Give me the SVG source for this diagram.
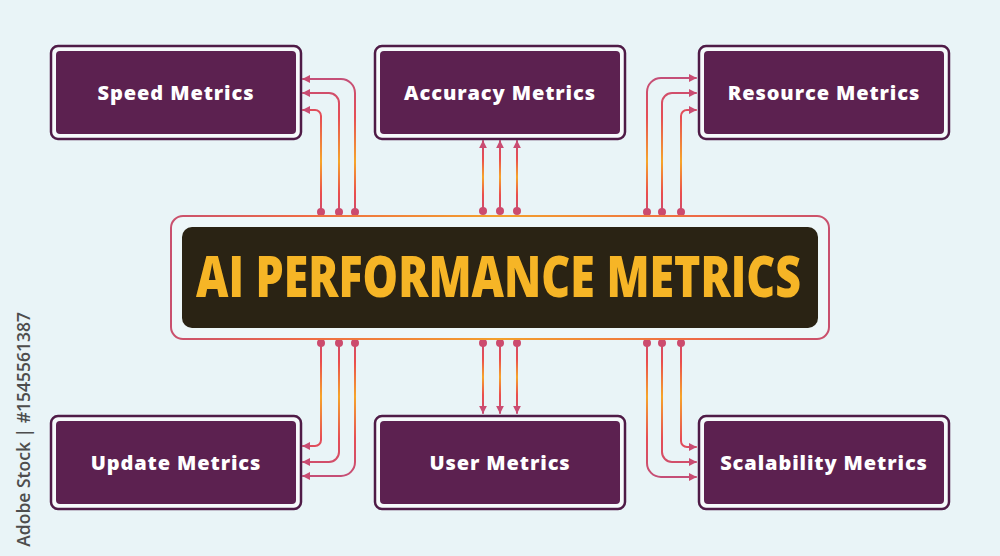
<svg xmlns="http://www.w3.org/2000/svg" width="1000" height="556" viewBox="0 0 1000 556">
  <defs>
    <style>
      .node-outer { fill: #f6fafb; stroke: #4f1b47; stroke-width: 2.5; }
      .node-inner { fill: #5c2150; }
      .node-label { font-family: "Open Sans", "Liberation Sans", sans-serif; font-weight: 800; font-size: 20px; letter-spacing: 0.9px; fill: #ffffff; text-anchor: middle; }
      .conn { fill: none; stroke-width: 2; stroke-linecap: round; }
      .top { stroke: url(#gTop); marker-start: url(#dot); marker-end: url(#arrow); }
      .bot { stroke: url(#gBot); marker-start: url(#dot); marker-end: url(#arrow); }
      .mid { stroke: url(#gMid); marker-start: url(#dot); marker-end: url(#arrow); }
      .midb { stroke: url(#gMidB); marker-start: url(#dot); marker-end: url(#arrow); }
    </style>
    <linearGradient id="gTop" gradientUnits="userSpaceOnUse" x1="0" y1="76" x2="0" y2="214">
      <stop offset="0" stop-color="#c24f7a"/>
      <stop offset="0.3" stop-color="#e64d55"/>
      <stop offset="0.62" stop-color="#f6a52a"/>
      <stop offset="0.85" stop-color="#ea4d4e"/>
      <stop offset="1" stop-color="#cc4b6e"/>
    </linearGradient>
    <linearGradient id="gBot" gradientUnits="userSpaceOnUse" x1="0" y1="341" x2="0" y2="480">
      <stop offset="0" stop-color="#cc4b6e"/>
      <stop offset="0.15" stop-color="#ea4d4e"/>
      <stop offset="0.4" stop-color="#f6a52a"/>
      <stop offset="0.7" stop-color="#e64d55"/>
      <stop offset="1" stop-color="#c24f7a"/>
    </linearGradient>
    <linearGradient id="gMid" gradientUnits="userSpaceOnUse" x1="0" y1="141" x2="0" y2="213">
      <stop offset="0" stop-color="#c94c72"/>
      <stop offset="0.25" stop-color="#ea4d4e"/>
      <stop offset="0.5" stop-color="#f6a52a"/>
      <stop offset="0.75" stop-color="#ea4d4e"/>
      <stop offset="1" stop-color="#c94c72"/>
    </linearGradient>
    <linearGradient id="gMidB" gradientUnits="userSpaceOnUse" x1="0" y1="341" x2="0" y2="413">
      <stop offset="0" stop-color="#c94c72"/>
      <stop offset="0.25" stop-color="#ea4d4e"/>
      <stop offset="0.5" stop-color="#f6a52a"/>
      <stop offset="0.75" stop-color="#ea4d4e"/>
      <stop offset="1" stop-color="#c94c72"/>
    </linearGradient>
    <linearGradient id="gFrame" x1="0" y1="0" x2="1" y2="0">
      <stop offset="0" stop-color="#c9506e"/>
      <stop offset="0.2" stop-color="#ee6a45"/>
      <stop offset="0.5" stop-color="#f3a02c"/>
      <stop offset="0.8" stop-color="#ee6a45"/>
      <stop offset="1" stop-color="#c9506e"/>
    </linearGradient>
    <marker id="arrow" viewBox="0 0 10 10" refX="9" refY="5" markerWidth="8" markerHeight="8" markerUnits="userSpaceOnUse" orient="auto">
      <path d="M0,0 L10,5 L0,10 Z" fill="#c94c72"/>
    </marker>
    <marker id="dot" viewBox="0 0 10 10" refX="5" refY="5" markerWidth="8" markerHeight="8" markerUnits="userSpaceOnUse" orient="auto">
      <circle cx="5" cy="5" r="5" fill="#cc4b6e"/>
    </marker>
  </defs>

  <rect x="0" y="0" width="1000" height="556" fill="#e9f4f7"/>

  <g id="connectors">
    <!-- top-left to Speed -->
    <path class="conn top" d="M355,212 V93 A14,14 0 0 0 341,79 H303"/>
    <path class="conn top" d="M339,212 V103 A10,10 0 0 0 329,93 H303"/>
    <path class="conn top" d="M321,212 V116 A6,6 0 0 0 315,110 H303"/>
    <!-- top-middle to Accuracy -->
    <path class="conn mid" d="M483,211 V141"/>
    <path class="conn mid" d="M500,211 V141"/>
    <path class="conn mid" d="M517,211 V141"/>
    <!-- top-right to Resource -->
    <path class="conn top" d="M647,212 V92 A14,14 0 0 1 661,78 H696"/>
    <path class="conn top" d="M662,212 V103 A10,10 0 0 1 672,93 H696"/>
    <path class="conn top" d="M681,212 V116 A6,6 0 0 1 687,110 H696"/>
    <!-- bottom-left to Update -->
    <path class="conn bot" d="M321,343 V440 A6,6 0 0 1 315,446 H303"/>
    <path class="conn bot" d="M339,343 V452 A10,10 0 0 1 329,462 H303"/>
    <path class="conn bot" d="M355,343 V462 A14,14 0 0 1 341,476 H303"/>
    <!-- bottom-middle to User -->
    <path class="conn midb" d="M483,343 V413"/>
    <path class="conn midb" d="M500,343 V413"/>
    <path class="conn midb" d="M517,343 V413"/>
    <!-- bottom-right to Scalability -->
    <path class="conn bot" d="M681,343 V441 A6,6 0 0 0 687,447 H696"/>
    <path class="conn bot" d="M662,343 V452 A10,10 0 0 0 672,462 H696"/>
    <path class="conn bot" d="M647,343 V463 A14,14 0 0 0 661,477 H696"/>
  </g>

  <g id="center">
    <rect x="171" y="216" width="658" height="123" rx="12" fill="#eef7f9" stroke="url(#gFrame)" stroke-width="2"/>
    <rect x="182" y="227" width="636" height="101" rx="10" fill="#2a2314"/>
    <text x="498.5" y="297" font-family="'Open Sans', 'Liberation Sans', sans-serif" font-weight="800" font-size="57" fill="#f6b526" text-anchor="middle" textLength="605" lengthAdjust="spacingAndGlyphs">AI PERFORMANCE METRICS</text>
  </g>

  <g id="speed">
    <rect class="node-outer" x="51" y="46" width="250" height="93" rx="7"/>
    <rect class="node-inner" x="56" y="51" width="240" height="83" rx="4"/>
    <text class="node-label" x="176" y="100">Speed Metrics</text>
  </g>
  <g id="accuracy">
    <rect class="node-outer" x="375" y="46" width="250" height="93" rx="7"/>
    <rect class="node-inner" x="380" y="51" width="240" height="83" rx="4"/>
    <text class="node-label" x="500" y="100">Accuracy Metrics</text>
  </g>
  <g id="resource">
    <rect class="node-outer" x="699" y="46" width="250" height="93" rx="7"/>
    <rect class="node-inner" x="704" y="51" width="240" height="83" rx="4"/>
    <text class="node-label" x="824" y="100">Resource Metrics</text>
  </g>
  <g id="update">
    <rect class="node-outer" x="51" y="416" width="250" height="93" rx="7"/>
    <rect class="node-inner" x="56" y="421" width="240" height="83" rx="4"/>
    <text class="node-label" x="176" y="470">Update Metrics</text>
  </g>
  <g id="user">
    <rect class="node-outer" x="375" y="416" width="250" height="93" rx="7"/>
    <rect class="node-inner" x="380" y="421" width="240" height="83" rx="4"/>
    <text class="node-label" x="500" y="470">User Metrics</text>
  </g>
  <g id="scalability">
    <rect class="node-outer" x="699" y="416" width="250" height="93" rx="7"/>
    <rect class="node-inner" x="704" y="421" width="240" height="83" rx="4"/>
    <text class="node-label" x="824" y="470">Scalability Metrics</text>
  </g>

  <text transform="translate(30,312) rotate(-90)" text-anchor="end" font-family="'Open Sans', 'Liberation Sans', sans-serif" font-weight="600" font-size="17.5" fill="#4d4d4d">Adobe Stock | #1545561387</text>
</svg>
